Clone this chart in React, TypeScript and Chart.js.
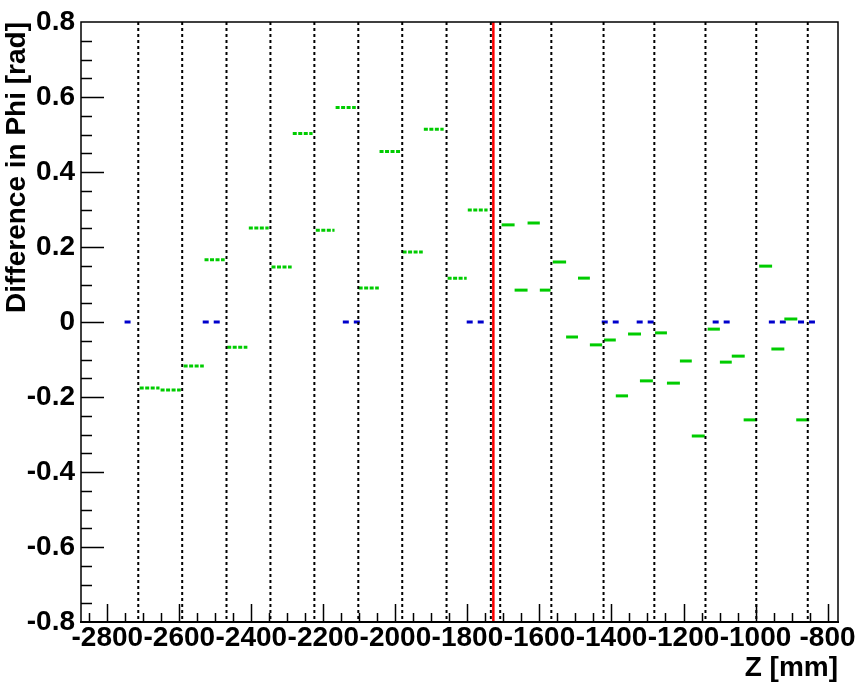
import { useEffect, useRef } from 'react';
import { Chart, registerables } from 'chart.js';

Chart.register(...registerables);

// Axis ranges
const xRange = [-2873, -771];
const yRange = [-0.8, 0.8];

// Tick values and labels
const xTickValues = [-2800, -2600, -2400, -2200, -2000, -1800, -1600, -1400, -1200, -1000, -800];
const xTickLabels = ['-2800', '-2600', '-2400', '-2200', '-2000', '-1800', '-1600', '-1400', '-1200', '-1000', '-800'];
const yTickValues = [0.8, 0.6, 0.4, 0.2, 0, -0.2, -0.4, -0.6, -0.8];
const yTickLabels = ['0.8', '0.6', '0.4', '0.2', '0', '-0.2', '-0.4', '-0.6', '-0.8'];

// Module boundaries (dotted) and reference line (red)
const boundaryZ = [-2714, -2592, -2469, -2347, -2225, -2103, -1981, -1858, -1735,
  -1709, -1567, -1422, -1281, -1139, -998, -855];
const referenceZ = -1728;

// Green segments, first detector part (dashed)
const innerStart = [-2710, -2652, -2588, -2530, -2467, -2407, -2344, -2285, -2221, -2166, -2102, -2044, -1980, -1921, -1855, -1799];
const innerEnd = [-2655, -2596, -2532, -2474, -2411, -2352, -2288, -2230, -2169, -2110, -2046, -1985, -1924, -1866, -1802, -1744];
const innerDiff = [-0.176, -0.181, -0.117, 0.166, -0.067, 0.251, 0.147, 0.503, 0.245, 0.572, 0.091, 0.455, 0.187, 0.514, 0.117, 0.299];

// Green segments, second detector part (solid)
const outerStart = [-1705, -1669, -1633, -1599, -1563, -1526, -1493, -1460, -1421, -1388, -1354, -1321, -1279, -1246, -1210, -1177, -1133, -1099, -1066, -1033, -990, -956, -920, -887];
const outerEnd = [-1669, -1633, -1599, -1569, -1526, -1493, -1460, -1426, -1388, -1354, -1318, -1285, -1246, -1210, -1177, -1141, -1099, -1066, -1030, -996, -954, -920, -884, -851];
const outerDiff = [0.259, 0.085, 0.264, 0.085, 0.16, -0.04, 0.117, -0.061, -0.048, -0.197, -0.032, -0.157, -0.029, -0.163, -0.104, -0.304, -0.019, -0.107, -0.091, -0.261, 0.149, -0.072, 0.008, -0.261];

// Blue segments (no measurement, at zero)
const deadStart = [-2752, -2535, -2146, -1802, -1427, -1330, -1119, -963, -882];
const deadEnd = [-2732, -2487, -2096, -1752, -1380, -1282, -1071, -916, -835];
const deadDiff = [0, 0, 0, 0, 0, 0, 0, 0, 0];

const GREEN = 'rgb(0,204,0)';
const BLUE = 'rgb(0,0,204)';
const FONT = "'Liberation Sans', Arial, Helvetica, sans-serif";

const rootFrame = {
  id: 'rootFrame',
  afterDraw(chart: any) {
    const { ctx, chartArea, scales } = chart;
    const { left, right, top, bottom } = chartArea;
    const xs = scales.x;
    const ys = scales.y;
    ctx.save();
    ctx.strokeStyle = '#000';
    ctx.lineWidth = 1.5;
    ctx.beginPath();
    for (let i = -58; i <= -16; i++) {
      const v = i * 50;
      const px = xs.getPixelForValue(v);
      if (px <= left + 1 || px >= right - 1) continue;
      const len = v % 200 === 0 ? 18 : 9;
      ctx.moveTo(Math.round(px) + 0.5, bottom);
      ctx.lineTo(Math.round(px) + 0.5, bottom - len);
    }
    for (let i = -15; i <= 15; i++) {
      const v = i * 0.05;
      const py = ys.getPixelForValue(v);
      const len = i % 4 === 0 ? 23 : 11;
      ctx.moveTo(left, Math.round(py) + 0.5);
      ctx.lineTo(left + len, Math.round(py) + 0.5);
    }
    ctx.stroke();
    ctx.lineWidth = 1.5;
    ctx.strokeRect(left, top, right - left, bottom - top);
    ctx.lineWidth = 2;
    ctx.beginPath();
    ctx.moveTo(left - 1, bottom);
    ctx.lineTo(right + 1, bottom);
    ctx.stroke();
    ctx.restore();
  },
};

function segDataset(x0: number, x1: number, y: number, color: string, dash: number[]) {
  return {
    type: 'line' as const,
    data: [{ x: x0, y }, { x: x1, y }],
    borderColor: color,
    borderWidth: 3,
    borderDash: dash,
    borderCapStyle: 'butt' as const,
    pointRadius: 0,
    fill: false,
    order: 2,
  };
}

export default function App() {
  const ref = useRef<HTMLCanvasElement | null>(null);
  useEffect(() => {
    if (!ref.current) return;
    const datasets: any[] = [];
    innerStart.forEach((s, i) => datasets.push(segDataset(s, innerEnd[i], innerDiff[i], GREEN, [4, 1.5])));
    outerStart.forEach((s, i) => datasets.push(segDataset(s, outerEnd[i], outerDiff[i], GREEN, [])));
    deadStart.forEach((s, i) => datasets.push(segDataset(s, deadEnd[i], deadDiff[i], BLUE, [6, 5])));
    boundaryZ.forEach((z) =>
      datasets.push({
        type: 'line',
        data: [{ x: z, y: yRange[1] }, { x: z, y: yRange[0] }],
        borderColor: '#000',
        borderWidth: 2,
        borderDash: [3, 3],
        borderCapStyle: 'butt',
        pointRadius: 0,
        fill: false,
        order: 1,
      })
    );
    datasets.push({
      type: 'line',
      data: [{ x: referenceZ, y: yRange[1] }, { x: referenceZ, y: yRange[0] }],
      borderColor: 'rgb(255,0,0)',
      borderWidth: 2.5,
      pointRadius: 0,
      fill: false,
      order: 0,
    });

    const tickFont = { family: FONT, size: 28, weight: 'bold' as const, lineHeight: 1 };
    const chart = new Chart(ref.current, {
      type: 'line',
      data: { datasets },
      options: {
        responsive: false,
        animation: false,
        events: [],
        layout: { padding: { left: 0, top: 22, right: 29, bottom: 0 } },
        plugins: { legend: { display: false }, tooltip: { enabled: false } },
        scales: {
          x: {
            type: 'linear',
            min: xRange[0],
            max: xRange[1],
            grid: { display: false, drawTicks: false },
            border: { display: false },
            afterBuildTicks: (s: any) => {
              s.ticks = xTickValues.map((v) => ({ value: v }));
            },
            afterFit: (s: any) => {
              s.height = 77;
            },
            ticks: {
              autoSkip: false,
              maxRotation: 0,
              minRotation: 0,
              padding: 2,
              color: '#000',
              font: tickFont,
              callback: (v: any) => {
                const i = xTickValues.indexOf(Number(v));
                return i >= 0 ? xTickLabels[i] : '';
              },
            },
            title: {
              display: true,
              text: 'Z [mm]',
              align: 'end',
              color: '#000',
              font: tickFont,
              padding: { top: 0, bottom: 17 },
            },
          },
          y: {
            type: 'linear',
            min: yRange[0],
            max: yRange[1],
            grid: { display: false, drawTicks: false },
            border: { display: false },
            afterBuildTicks: (s: any) => {
              s.ticks = yTickValues.map((v) => ({ value: v }));
            },
            afterFit: (s: any) => {
              s.width = 81;
            },
            ticks: {
              autoSkip: false,
              padding: 6,
              color: '#000',
              font: tickFont,
              callback: (v: any) => {
                const i = yTickValues.findIndex((t) => Math.abs(t - Number(v)) < 1e-9);
                return i >= 0 ? yTickLabels[i] : '';
              },
            },
            title: {
              display: true,
              text: 'Difference in Phi [rad]',
              align: 'end',
              color: '#000',
              font: tickFont,
              padding: { top: 3, bottom: 0 },
            },
          },
        },
      },
      plugins: [rootFrame],
    } as any);
    return () => chart.destroy();
  }, []);

  return (
    <div style={{ position: 'absolute', left: 0, top: 0, width: 867, height: 699, background: '#fff' }}>
      <canvas ref={ref} width={867} height={699} style={{ width: 867, height: 699, display: 'block' }} />
    </div>
  );
}
